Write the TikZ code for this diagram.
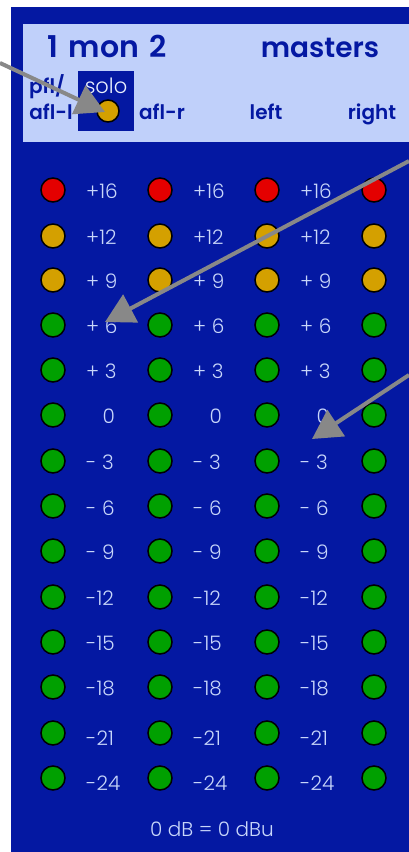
\documentclass[tikz,border=0pt]{standalone}
\usepackage{fontspec}
\setmainfont{Poppins}
\newfontfamily\lightfont{Poppins Light}
\newfontfamily\semifont{Poppins SemiBold}
\usetikzlibrary{arrows.meta}
\definecolor{PanelBlue}{RGB}{4, 24, 162}
\definecolor{HeaderBlue}{RGB}{192, 208, 250}
\definecolor{LabelBlue}{RGB}{200, 214, 250}
\definecolor{LedRed}{RGB}{228, 0, 0}
\definecolor{LedAmber}{RGB}{212, 160, 0}
\definecolor{LedGreen}{RGB}{0, 160, 0}
\definecolor{PointerGray}{RGB}{136, 136, 136}

\begin{document}
\begin{tikzpicture}[x=1pt, y=-1pt,
    led/.style={circle, draw=black, line width=1.5pt, minimum size=24pt, inner sep=0pt},
    level/.style={LabelBlue, font=\lightfont\fontsize{20}{24}\selectfont, anchor=base west, inner sep=0pt},
    head/.style={PanelBlue, font=\semifont\fontsize{20}{24}\selectfont, anchor=base, inner sep=0pt},
    pointer/.style={PointerGray, line width=4pt, -{Triangle[length=29pt, width=31pt]}}]
    \useasboundingbox (0,0) rectangle (409,852);
    \fill[white] (0,0) rectangle (409,852);

    % Panel and header strip
    \fill[PanelBlue] (11,7) rectangle (409,852);
    \fill[HeaderBlue] (23,24) rectangle (409,142);

    % Header labels
    \node[head, font=\semifont\fontsize{30}{36}\selectfont] (mon) at (107,57) {1\,\,mon\,\,2};
    \node[head, font=\semifont\fontsize{28}{36}\selectfont] (masters) at (320,57) {masters};
    \node[head] (pfl) at (47,93) {pfl/};
    \node[head] (aflleft) at (51,119) {afl-l};
    \node[head] (aflright) at (162,119) {afl-r};
    \node[head] (left) at (266,119) {left};
    \node[head] (right) at (372,119) {right};

    % Solo button
    \fill[PanelBlue] (78,71) rectangle (134,131);
    \node[head, LabelBlue!40!white, font=\lightfont\fontsize{21}{24}\selectfont] (solo) at (106,93) {solo};
    \node[led, fill=LedAmber, minimum size=22pt] (sololed) at (108,111) {};

    % LED columns
    \foreach \col/\lx in {1/53, 2/160, 3/267, 4/374} {
      \foreach \row/\ly/\ty/\txt/\clr in {1/190/198/+16/LedRed, 2/236/244/+12/LedAmber,
          3/280/288/+ 9/LedAmber, 4/325/333/+ 6/LedGreen, 5/370/378/+ 3/LedGreen,
          6/415/423/\phantom{+}\,0/LedGreen, 7/461/469/- 3/LedGreen, 8/506/515/- 6/LedGreen,
          9/551/559/- 9/LedGreen, 10/597/605/-12/LedGreen, 11/642/650/-15/LedGreen,
          12/687/695/-18/LedGreen, 13/733/745/-21/LedGreen, 14/778/790/-24/LedGreen} {
        \node[led, fill=\clr] (led-\col-\row) at (\lx,\ly) {};
        \ifnum\col<4
          \node[level] (lvl-\col-\row) at (\lx+33,\ty) {\txt};
        \fi
      }
    }

    % Footer
    \node[level, anchor=base] (ref) at (212,836) {0 dB = 0 dBu};

    % Pointers
    \coordinate (tipsolo) at (105,112);
    \coordinate (tipleft) at (105,322);
    \coordinate (tipright) at (312,439);
    \draw[pointer] (0,63) -- (tipsolo);
    \draw[pointer] (409,161) -- (tipleft);
    \draw[pointer] (409,375) -- (tipright);
\end{tikzpicture}
\end{document}
